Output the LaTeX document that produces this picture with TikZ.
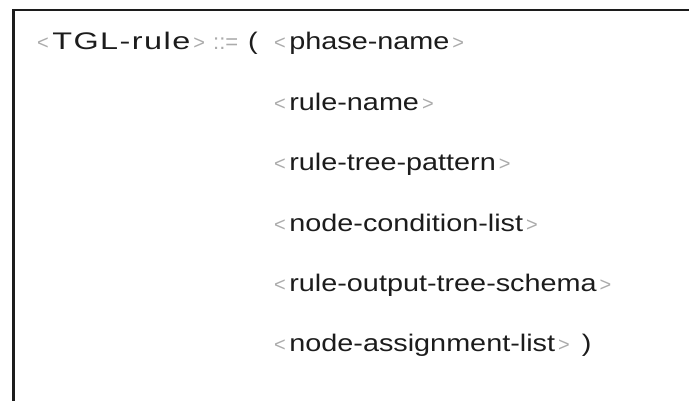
\documentclass[tikz,border=0pt]{standalone}
\usepackage{fontspec}
\setmainfont{Liberation Sans}
\newfontfamily\bodyfont{Liberation Sans}[FakeStretch=1.2]
\newfontfamily\headfont{Liberation Sans}[FakeStretch=1.35, LetterSpace=6]
\definecolor{ink}{HTML}{1C1C1C}
\definecolor{bracket}{HTML}{ABABAB}
% light angle brackets around nonterminals, set a little apart from the name
\newcommand\bnfOpen{{\rmfamily\fontsize{20}{20}\selectfont\color{bracket}<}\hspace{3.5pt}}
\newcommand\bnfClose{\hspace{3pt}{\rmfamily\fontsize{20}{20}\selectfont\color{bracket}>}}
\tikzset{
  bnf/.style={inner sep=0pt, anchor=base west, text=ink},
  headtxt/.style={bnf, font=\headfont\fontsize{24}{28}\selectfont},
  bodytxt/.style={bnf, font=\bodyfont\fontsize{24}{28}\selectfont},
  symtxt/.style={bnf, text=bracket, font=\fontsize{22}{26}\selectfont},
  frame/.style={draw=ink, line width=2.6pt}
}
\begin{document}
\begin{tikzpicture}[x=1pt, y=-1pt]
\useasboundingbox (0,0) rectangle (689,401);
% open frame: top edge and left edge only
\coordinate (corner) at (13.5,10);
\coordinate (topend) at (689,10);
\coordinate (leftend) at (13.5,401);
\draw[frame] (leftend) -- (corner) -- (topend);
% production head
\node[headtxt] (head) at (37,50) {\bnfOpen TGL-rule\bnfClose};
\node[symtxt] (defsym) at (213,50) {::=};
\node[bodytxt] (paren) at (248,50) {(};
% production body, one component per line
\node[bodytxt] (c1) at (274,50)    {\bnfOpen phase-name\bnfClose};
\node[bodytxt] (c2) at (274,110.4) {\bnfOpen rule-name\bnfClose};
\node[bodytxt] (c3) at (274,170.8) {\bnfOpen rule-tree-pattern\bnfClose};
\node[bodytxt] (c4) at (274,231.2) {\bnfOpen node-condition-list\bnfClose};
\node[bodytxt] (c5) at (274,291.6) {\bnfOpen rule-output-tree-schema\bnfClose};
\node[bodytxt] (c6) at (274,352)   {\bnfOpen node-assignment-list\bnfClose\hspace{12pt})};
\end{tikzpicture}
\end{document}
